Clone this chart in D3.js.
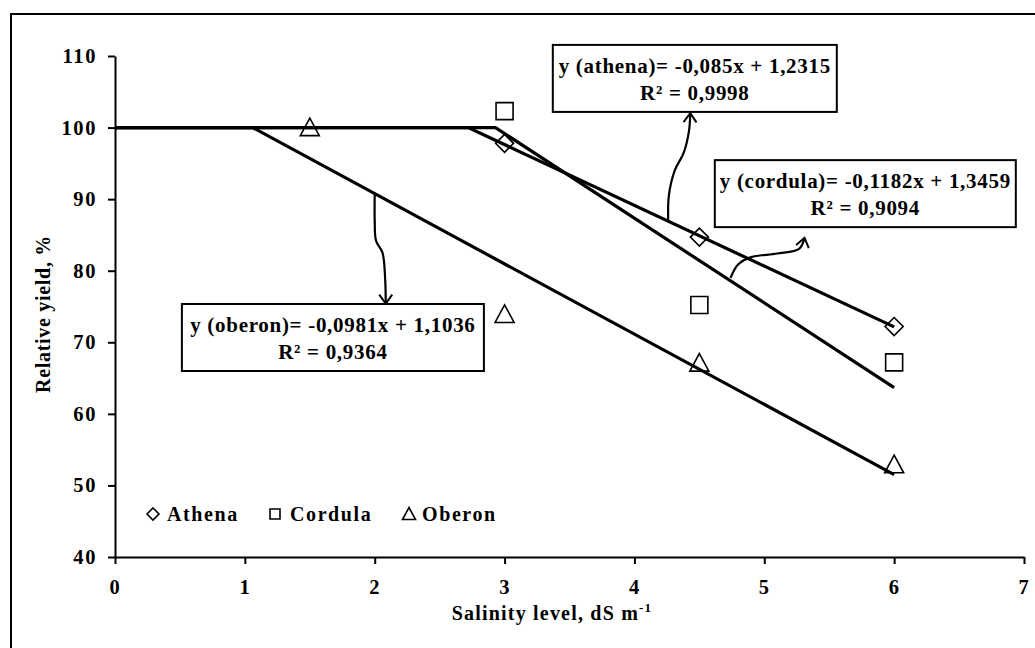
<!DOCTYPE html>
<html>
<head>
<meta charset="utf-8">
<script src="https://cdn.jsdelivr.net/npm/d3@7"></script>
<style>
  body { margin: 0; background: #fff; }
  svg text { font-family: "Liberation Serif", "Times New Roman", serif; font-weight: bold; fill: #000; }
</style>
</head>
<body>
<div id="chart"></div>
<script>
// values
var xTicks = [0, 1, 2, 3, 4, 5, 6, 7];
var yTicks = [40, 50, 60, 70, 80, 90, 100, 110];

var athenaX = [3, 4.5, 6];
var athenaY = [97.8, 84.7, 72.2];
var cordulaX = [3, 4.5, 6];
var cordulaY = [102.3, 75.2, 67.2];
var oberonX = [1.5, 3, 4.5, 6];
var oberonY = [100, 73.9, 67.1, 52.9];

// fitted lines (plateau then slope), end points
var athenaFit = [[0, 100], [2.72, 100], [6, 72.15]];
var cordulaFit = [[0, 100], [2.93, 100], [6, 63.67]];
var oberonFit = [[0, 100], [1.06, 100], [6, 51.5]];

var eqAthena = ["y (athena)= -0,085x + 1,2315", "R² = 0,9998"];
var eqCordula = ["y (cordula)= -0,1182x + 1,3459", "R² = 0,9094"];
var eqOberon = ["y (oberon)= -0,0981x + 1,1036", "R² = 0,9364"];

var legendNames = ["Athena", "Cordula", "Oberon"];

var W = 1035, H = 648;

var x = d3.scaleLinear().domain([0, 7]).range([115, 1024]);
var y = d3.scaleLinear().domain([40, 110]).range([557, 56]);

var svg = d3.select("#chart").append("svg")
  .attr("width", W).attr("height", H);

// outer frame (cut by the picture edge on right and bottom)
svg.append("rect")
  .attr("x", 11).attr("y", 14)
  .attr("width", 1040).attr("height", 660)
  .attr("fill", "none").attr("stroke", "#000").attr("stroke-width", 2);

// axes
var yAxis = svg.append("g")
  .attr("transform", "translate(" + x(0) + ",0)")
  .call(d3.axisLeft(y).tickValues(yTicks).tickFormat(d3.format("d"))
    .tickSize(7).tickSizeOuter(0).tickPadding(11));

var xAxis = svg.append("g")
  .attr("transform", "translate(0," + y(40) + ")")
  .call(d3.axisBottom(x).tickValues(xTicks).tickFormat(d3.format("d"))
    .tickSize(7).tickSizeOuter(0).tickPadding(15));

[xAxis, yAxis].forEach(function(a) {
  a.select(".domain").attr("stroke", "#000").attr("stroke-width", 2);
  a.selectAll(".tick line").attr("stroke", "#000").attr("stroke-width", 2);
  a.selectAll(".tick text")
    .attr("font-family", "Liberation Serif").attr("font-weight", "bold")
    .attr("font-size", 20.5).attr("letter-spacing", 1.6).attr("fill", "#000");
});

// axis titles
var xt = svg.append("text")
  .attr("x", 552).attr("y", 620)
  .attr("text-anchor", "middle")
  .attr("font-size", 20).attr("letter-spacing", 1.2);
xt.append("tspan").text("Salinity level, dS m");
xt.append("tspan").attr("font-size", 13).attr("dy", -8).text("-1");

svg.append("text")
  .attr("transform", "translate(50,314) rotate(-90)")
  .attr("text-anchor", "middle")
  .attr("font-size", 20).attr("letter-spacing", 0.7)
  .text("Relative yield, %");

// fitted lines
var line = d3.line().x(function(d) { return x(d[0]); }).y(function(d) { return y(d[1]); });
[athenaFit, cordulaFit, oberonFit].forEach(function(f) {
  svg.append("path")
    .attr("d", line(f))
    .attr("fill", "none").attr("stroke", "#000").attr("stroke-width", 3.2)
    .attr("stroke-linejoin", "miter");
});

// marker shapes
function diamond(r) { return "M0," + (-r) + "L" + r + ",0L0," + r + "L" + (-r) + ",0Z"; }
function square(r) { return "M" + (-r) + "," + (-r) + "H" + r + "V" + r + "H" + (-r) + "Z"; }
function triangle(r) { return "M0," + (-r) + "L" + r + "," + (r * 0.85) + "L" + (-r) + "," + (r * 0.85) + "Z"; }

function drawPoints(xs, ys, shape, r) {
  svg.append("g").selectAll("path")
    .data(xs.map(function(v, i) { return [v, ys[i]]; }))
    .join("path")
      .attr("transform", function(d) { return "translate(" + x(d[0]) + "," + y(d[1]) + ")"; })
      .attr("d", shape(r))
      .attr("fill", "none").attr("stroke", "#000").attr("stroke-width", 1.6);
}
drawPoints(athenaX, athenaY, diamond, 9);
drawPoints(cordulaX, cordulaY, square, 8.5);
drawPoints(oberonX, oberonY, triangle, 9.5);

// annotation boxes
function eqBox(lines, cx, top, w) {
  var px = x(cx), py = y(top);
  svg.append("rect")
    .attr("x", px - w / 2).attr("y", py)
    .attr("width", w).attr("height", 67)
    .attr("fill", "#fff").attr("stroke", "#000").attr("stroke-width", 2);
  lines.forEach(function(t, i) {
    svg.append("text")
      .attr("x", px).attr("y", py + 28 + i * 27)
      .attr("text-anchor", "middle")
      .attr("font-size", 21).attr("letter-spacing", 0.7)
      .text(t);
  });
}
eqBox(eqAthena, 4.465, 111.55, 284);
eqBox(eqCordula, 5.778, 95.45, 301);
eqBox(eqOberon, 1.678, 75.35, 302);

// arrows from the lines to the boxes
svg.append("defs").append("marker")
  .attr("id", "head")
  .attr("viewBox", "-10 -8 12 16")
  .attr("markerWidth", 12).attr("markerHeight", 16)
  .attr("markerUnits", "userSpaceOnUse")
  .attr("refX", 0).attr("refY", 0)
  .attr("orient", "auto")
  .append("path")
    .attr("d", "M-9,-6.5L0,0L-9,6.5")
    .attr("fill", "none").attr("stroke", "#000").attr("stroke-width", 2);

var curve = d3.line()
  .x(function(d) { return x(d[0]); }).y(function(d) { return y(d[1]); })
  .curve(d3.curveCatmullRom);

var arrowAthena = [[4.26, 87.1], [4.265, 90.5], [4.31, 94.0], [4.38, 96.5], [4.42, 99.5], [4.43, 102.0]];
var arrowCordula = [[4.74, 79.0], [4.8, 80.9], [4.9, 81.9], [5.1, 82.4], [5.27, 83.1], [5.31, 84.6]];
var arrowOberon = [[2.0, 90.8], [2.0, 87.0], [2.01, 84.2], [2.06, 82.5], [2.08, 79.0], [2.085, 75.4]];

[arrowAthena, arrowCordula, arrowOberon].forEach(function(a) {
  svg.append("path")
    .attr("d", curve(a))
    .attr("fill", "none").attr("stroke", "#000").attr("stroke-width", 2.2)
    .attr("marker-end", "url(#head)");
});

// legend
var legendShapes = [diamond, square, triangle];
var legendSizes = [6, 5, 6.5];
var legendMarkX = [153, 275, 409];
var legendTextX = [167, 290, 422];
legendNames.forEach(function(n, i) {
  svg.append("path")
    .attr("transform", "translate(" + legendMarkX[i] + ",514)")
    .attr("d", legendShapes[i](legendSizes[i]))
    .attr("fill", "none").attr("stroke", "#000").attr("stroke-width", 1.6);
  svg.append("text")
    .attr("x", legendTextX[i]).attr("y", 521)
    .attr("font-size", 20).attr("letter-spacing", 1.6)
    .text(n);
});
</script>
</body>
</html>
